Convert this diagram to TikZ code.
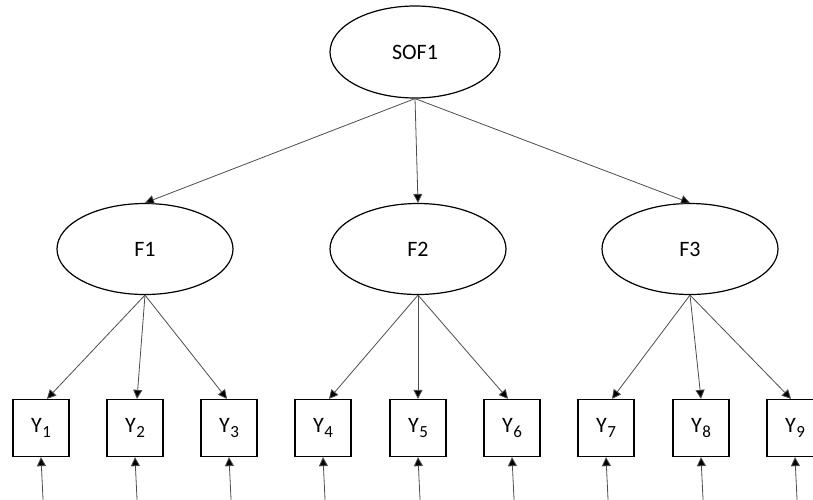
\documentclass[tikz,border=0pt]{standalone}
\usepackage{fontspec}
\setmainfont{Carlito}
\usetikzlibrary{shapes.geometric,arrows.meta,calc}
\newcommand{\yvar}[1]{Y\kern0.5pt{\fontsize{17}{17}\selectfont\raisebox{-5pt}{#1}}}
\begin{document}
\begin{tikzpicture}[x=1pt,y=-1pt,
  latent/.style={draw=black,line width=1.2pt,ellipse,minimum width=176pt,minimum height=91pt,inner sep=0pt,font=\fontsize{22}{22}\selectfont},
  obs/.style={draw=black,line width=1.3pt,rectangle,minimum width=56pt,minimum height=57pt,inner sep=0pt,font=\fontsize{22}{22}\selectfont},
  link/.style={draw=black!70,line width=0.8pt,-{Triangle[width=9pt,length=9pt,fill=black]}}]
\useasboundingbox (0,0) rectangle (813,499);
\clip (0,0) rectangle (813,499);
\node[latent,minimum width=170pt,minimum height=92pt] (S) at (415,52) {SOF1};
\node[latent] (F1) at (145,249) {F1};
\node[latent] (F2) at (418,249) {F2};
\node[latent] (F3) at (690,249) {F3};
\foreach \i/\x in {1/41,2/135,3/229,4/323,5/418,6/512,7/606,8/701,9/795}{
  \node[obs] (Y\i) at (\x,428) {\yvar{\i}};
  \coordinate (E\i) at (\x+3,520);
}
\draw[link] (S.south) -- (F1.north);
\draw[link] (S.south) -- (F2.north);
\draw[link] (S.south) -- (F3.north);
\draw[link] (F1.south) -- ($(Y1.north)+(6,0)$);
\draw[link] (F1.south) -- ($(Y2.north)+(2,0)$);
\draw[link] (F1.south) -- ($(Y3.north)+(-2,0)$);
\draw[link] (F2.south) -- ($(Y4.north)+(6,0)$);
\draw[link] (F2.south) -- ($(Y5.north)+(0,0)$);
\draw[link] (F2.south) -- ($(Y6.north)+(-4,0)$);
\draw[link] (F3.south) -- ($(Y7.north)+(6,0)$);
\draw[link] (F3.south) -- ($(Y8.north)+(0,0)$);
\draw[link] (F3.south) -- ($(Y9.north)+(-4,0)$);
\foreach \i in {1,...,9}{
  \draw[link] (E\i) -- (Y\i.south);
}
\end{tikzpicture}
\end{document}
